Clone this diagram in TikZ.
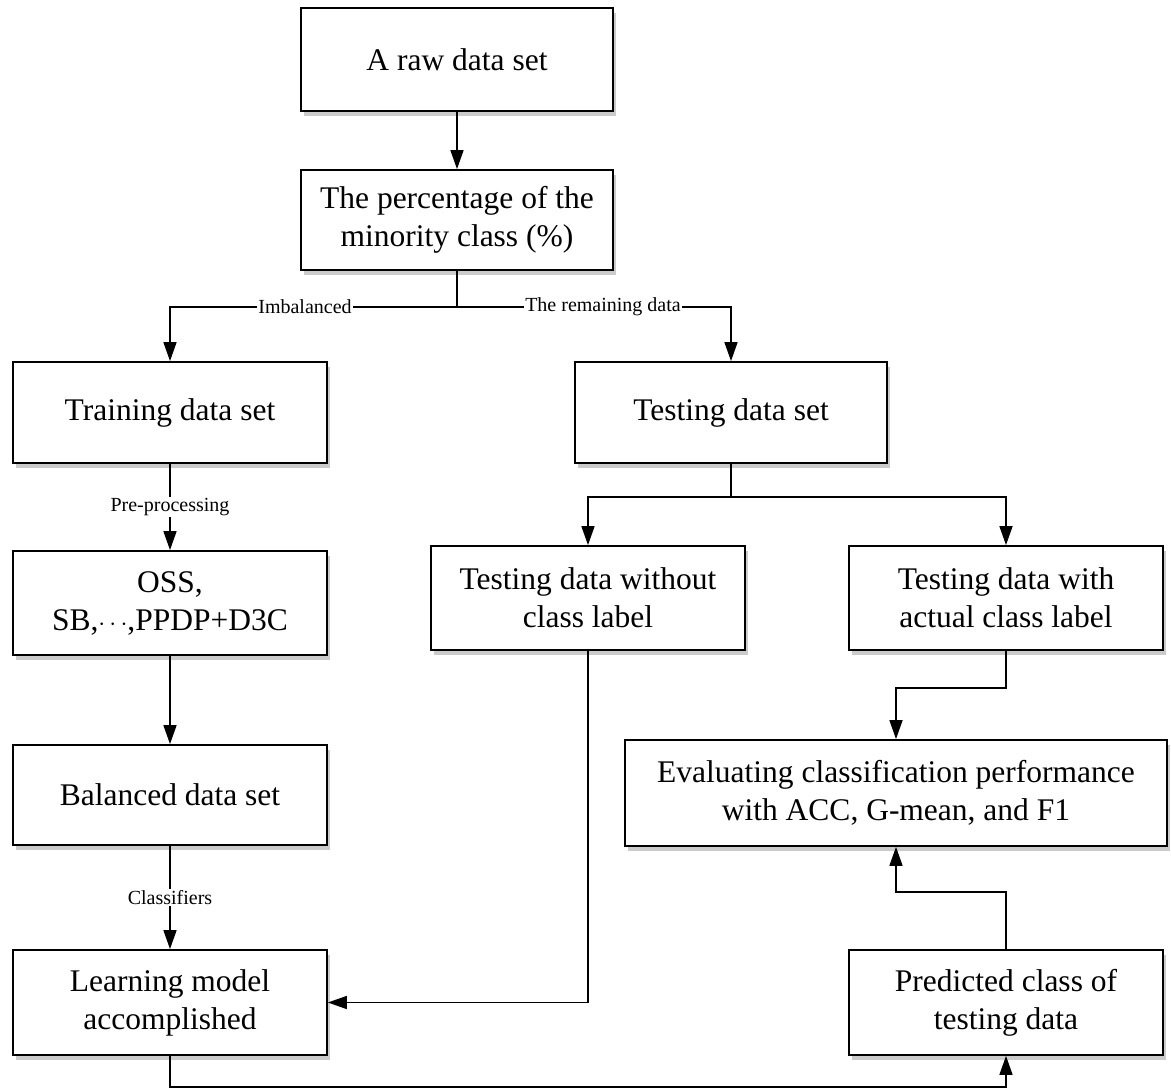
\documentclass[tikz,border=0pt]{standalone}
\usepackage{fontspec}
\setmainfont{Liberation Serif}
\usetikzlibrary{arrows.meta,shadows}
\begin{document}
\begin{tikzpicture}[x=1pt,y=-1pt,
  box/.style={draw,line width=1.8pt,fill=white,align=center,inner sep=4pt,
    font=\fontsize{31.5}{38}\selectfont,
    drop shadow={shadow xshift=3pt,shadow yshift=-5pt,fill=black!45,opacity=.45}},
  arr/.style={line width=1.6pt,-{Triangle[width=13pt,length=19pt]}},
  ln/.style={line width=1.6pt},
  lbl/.style={fill=white,inner sep=1pt,font=\fontsize{20}{22}\selectfont}]
\useasboundingbox (0,0) rectangle (1171,1089);
\node[box,minimum width=312pt,minimum height=103pt] (raw) at (457,59.5) {A raw data set};
\node[box,minimum width=312pt,minimum height=100pt] (pct) at (457,220) {The percentage of the\\minority class (\%)};
\node[box,minimum width=314pt,minimum height=101pt] (train) at (170,412.5) {Training data set};
\node[box,minimum width=312pt,minimum height=101pt] (test) at (731,412.5) {Testing data set};
\node[box,minimum width=314pt,minimum height=104pt] (oss) at (170,603) {OSS,\\SB,$\cdots$,PPDP+D3C};
\node[box,minimum width=314pt,minimum height=104pt] (two) at (588,598) {Testing data without\\class label};
\node[box,minimum width=314pt,minimum height=104pt] (twith) at (1006,598) {Testing data with\\actual class label};
\node[box,minimum width=314pt,minimum height=100pt] (bal) at (170,795) {Balanced data set};
\node[box,minimum width=542pt,minimum height=106pt] (eval) at (896,793) {Evaluating classification performance\\with ACC, G-mean, and F1};
\node[box,minimum width=314pt,minimum height=105pt] (learn) at (170,1002.5) {Learning model\\accomplished};
\node[box,minimum width=314pt,minimum height=105pt] (pred) at (1006,1002.5) {Predicted class of\\testing data};
\coordinate (s1) at (457,307);
\coordinate (s2) at (731,497);
\coordinate (b1) at (1006,688);
\coordinate (b2) at (1006,892);
\coordinate (b3) at (170,1087);
\draw[arr] (raw) -- (pct);
\draw[ln] (pct.south) -- (s1);
\draw[arr] (s1) -| (train.north);
\draw[arr] (s1) -| (test.north);
\node[lbl] (limb) at (305,307) {Imbalanced};
\node[lbl] (lrem) at (603,307) {The remaining data};
\draw[arr] (train) -- node[lbl] (lpre) {Pre-processing} (oss);
\draw[ln] (test.south) -- (s2);
\draw[arr] (s2) -| (two.north);
\draw[arr] (s2) -| (twith.north);
\draw[arr] (oss) -- (bal);
\draw[arr] (bal) -- node[lbl] (lcls) {Classifiers} (learn);
\draw[arr] (two.south) |- (learn.east);
\draw[arr] (twith.south) -- (b1) -| (eval.north);
\draw[arr] (pred.north) -- (b2) -| (eval.south);
\draw[arr] (learn.south) -- (b3) -| (pred.south);
\end{tikzpicture}
\end{document}
